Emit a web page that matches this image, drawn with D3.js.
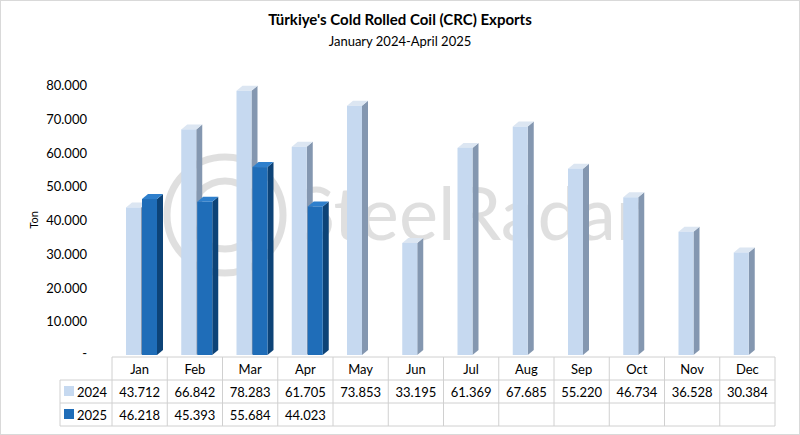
<!DOCTYPE html><html><head><meta charset="utf-8">
<script src="https://cdn.jsdelivr.net/npm/d3@7"></script>
<style>body{margin:0;background:#fff}svg{font-family:Lato,"Open Sans",sans-serif}</style></head><body>
<svg id="c" width="800" height="435"></svg>
<script>
const months=["Jan","Feb","Mar","Apr","May","Jun","Jul","Aug","Sep","Oct","Nov","Dec"];
const v2024=[43712,66842,78283,61705,73853,33195,61369,67685,55220,46734,36528,30384];
const v2025=[46218,45393,55684,44023,null,null,null,null,null,null,null,null];
const yTicks=[10000,20000,30000,40000,50000,60000,70000,80000];
const fmt=d=>d3.format(",")(d).replace(/,/g,".");
const svg=d3.select("#c");
svg.append("rect").attr("x",0.5).attr("y",0.5).attr("width",799).attr("height",434).attr("fill","#fff").attr("stroke","#d9d9d9");
svg.append("text").attr("x",400).attr("y",25).attr("text-anchor","middle").attr("font-weight","bold").attr("font-size",15).text("Türkiye's Cold Rolled Coil (CRC) Exports");
svg.append("text").attr("x",400).attr("y",46).attr("text-anchor","middle").attr("font-size",13).text("January 2024-April 2025");
const x=d3.scaleBand().domain(months).range([112,775]);
const y=d3.scaleLinear().domain([0,80000]).range([355,85]);
// watermark
const wm=svg.append("g").attr("opacity",0.18).attr("fill","none").attr("stroke","#555");
wm.append("circle").attr("cx",225).attr("cy",215).attr("r",58).attr("stroke-width",7);
wm.append("circle").attr("cx",225).attr("cy",215).attr("r",34).attr("stroke-width",7);
svg.append("text").attr("x",295).attr("y",240).attr("font-size",74).attr("fill","#555").attr("opacity",0.18).text("SteelRadar");
// y axis labels
svg.selectAll(".yl").data(yTicks).join("text").attr("x",87).attr("y",d=>y(d)+5).attr("text-anchor","end").attr("font-size",13).text(fmt);
svg.append("text").attr("x",87).attr("y",y(0)+3).attr("text-anchor","end").attr("font-size",13).text("-");
svg.append("text").attr("transform","translate(38,220) rotate(-90)").attr("text-anchor","middle").attr("font-size",11).text("Ton");
const dx=6,dy=5,bw=15;
function bar(cx,val,front,side,top){
  if(val==null)return;
  const x0=cx,x1=cx+bw,yt=y(val),yb=y(0);
  const g=svg.append("g");
  g.append("path").attr("d",`M${x1},${yb}L${x1+dx},${yb-dy}L${x1+dx},${yt-dy}L${x1},${yt}Z`).attr("fill",side);
  g.append("path").attr("d",`M${x0},${yt}L${x0+dx},${yt-dy}L${x1+dx},${yt-dy}L${x1},${yt}Z`).attr("fill",top);
  g.append("rect").attr("x",x0).attr("y",yt).attr("width",bw).attr("height",yb-yt).attr("fill",front);
}
months.forEach((m,i)=>{
  const bx=x(m)+14;
  bar(bx,v2024[i],"#c6d9f0","#8497b0","#dce6f2");
  bar(bx+bw+1,v2025[i],"#1f6db8","#0d4377","#2e7fcc");
});
// table
const rows=[{k:"2024",v:v2024,c:"#c6d9f0"},{k:"2025",v:v2025,c:"#1f6db8"}];
const ty=[357,380,403,426];
const t=svg.append("g").attr("stroke","#d0d0d0").attr("fill","none");
months.forEach(m=>t.append("line").attr("x1",x(m)).attr("x2",x(m)).attr("y1",ty[0]).attr("y2",ty[3]));
t.append("line").attr("x1",775).attr("x2",775).attr("y1",ty[0]).attr("y2",ty[3]);
t.append("line").attr("x1",60).attr("x2",60).attr("y1",ty[1]).attr("y2",ty[3]);
t.append("line").attr("x1",112).attr("x2",775).attr("y1",ty[0]).attr("y2",ty[0]);
[1,2,3].forEach(i=>t.append("line").attr("x1",60).attr("x2",775).attr("y1",ty[i]).attr("y2",ty[i]));
svg.selectAll(".mh").data(months).join("text").attr("x",d=>x(d)+x.bandwidth()/2).attr("y",ty[0]+17).attr("text-anchor","middle").attr("font-size",13).text(d=>d);
rows.forEach((r,ri)=>{
  const yy=ty[ri+1]+17;
  svg.append("rect").attr("x",64).attr("y",yy-11).attr("width",10).attr("height",10).attr("fill",r.c);
  svg.append("text").attr("x",77).attr("y",yy).attr("font-size",13).text(r.k);
  months.forEach((m,i)=>{ if(r.v[i]!=null) svg.append("text").attr("x",x(m)+x.bandwidth()/2).attr("y",yy).attr("text-anchor","middle").attr("font-size",13).text(fmt(r.v[i]));});
});
</script></body></html>
